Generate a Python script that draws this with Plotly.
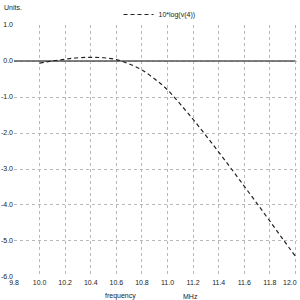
import plotly.graph_objects as go

freq = [10.0, 10.1, 10.2, 10.3, 10.4, 10.5, 10.6, 10.7, 10.8, 10.9, 11.0,
        11.1, 11.2, 11.3, 11.4, 11.5, 11.6, 11.7, 11.8, 11.9, 12.0]
gain_db = [-0.06, 0.0, 0.05, 0.09, 0.10, 0.09, 0.04, -0.08, -0.25, -0.50, -0.80,
           -1.20, -1.62, -2.07, -2.53, -3.00, -3.48, -3.96, -4.45, -4.94, -5.43]
ref_x = [9.8, 12.0]
ref_y = [0.0, 0.0]
x_ticks = [9.8, 10.0, 10.2, 10.4, 10.6, 10.8, 11.0, 11.2, 11.4, 11.6, 11.8, 12.0]
x_labels = ["9.8", "10.0", "10.2", "10.4", "10.6", "10.8", "11.0", "11.2", "11.4", "11.6", "11.8", "12.0"]
y_ticks = [1, 0, -1, -2, -3, -4, -5, -6]
y_labels = ["1.0", "0.0", "-1.0", "-2.0", "-3.0", "-4.0", "-5.0", "-6.0"]

FONT = "Liberation Sans, Arial, sans-serif"
TXT = "#222222"
L, R, T, B = 14, 3, 25, 23
PW, PH = 300 - L - R, 300 - T - B

# last x tick label is drawn as an annotation nudged inside the page so it is not clipped
axis_labels = x_labels[:-1] + [""]

fig = go.Figure()
fig.add_trace(go.Scatter(x=ref_x, y=ref_y, mode="lines",
                         line=dict(color="#555555", width=1.3),
                         showlegend=False, hoverinfo="skip"))
fig.add_trace(go.Scatter(x=freq, y=gain_db, mode="lines", name="10*log(v(4))",
                         line=dict(color="#222222", width=1.2, dash="4px,3px", shape="spline")))

fig.update_layout(
    width=300, height=300,
    margin=dict(l=L, r=R, t=T, b=B, autoexpand=False),
    paper_bgcolor="white", plot_bgcolor="white",
    font=dict(family=FONT, size=7, color=TXT),
    showlegend=True,
    legend=dict(orientation="h", xref="container", yref="container",
                x=0.395, y=1.0, xanchor="left", yanchor="top",
                font=dict(size=7, color=TXT), bgcolor="rgba(0,0,0,0)",
                itemwidth=30),
    xaxis=dict(range=[9.8, 12.012], tickvals=x_ticks, ticktext=axis_labels,
               showgrid=True, gridcolor="#b8b8b8", griddash="dot", gridwidth=1,
               zeroline=False, showline=False, ticks="", ticklabeloverflow="allow",
               tickfont=dict(size=7, color=TXT)),
    yaxis=dict(range=[-6.0005, 1.0005], tickvals=y_ticks, ticktext=y_labels,
               showgrid=True, gridcolor="#b8b8b8", griddash="dot", gridwidth=1,
               zeroline=False, showline=False, ticks="", ticklabeloverflow="allow",
               tickfont=dict(size=7, color=TXT)),
    annotations=[
        dict(text="Units.", xref="paper", yref="paper", x=(2 - L) / PW, y=(PH + T - 2) / PH,
             xanchor="left", yanchor="top", showarrow=False, font=dict(size=7, color=TXT)),
        dict(text="frequency", xref="paper", yref="paper", x=(120 - L) / PW, y=-(296 - (300 - B)) / PH,
             xanchor="center", yanchor="middle", showarrow=False, font=dict(size=7, color=TXT)),
        dict(text="MHz", xref="paper", yref="paper", x=(190 - L) / PW, y=-(296 - (300 - B)) / PH,
             xanchor="center", yanchor="middle", showarrow=False, font=dict(size=7, color=TXT)),
        dict(text=x_labels[-1], xref="paper", yref="paper", x=(299 - L) / PW, y=-(282 - (300 - B)) / PH,
             xanchor="right", yanchor="middle", showarrow=False, font=dict(size=7, color=TXT)),
    ],
)

fig.write_html("out.html")
